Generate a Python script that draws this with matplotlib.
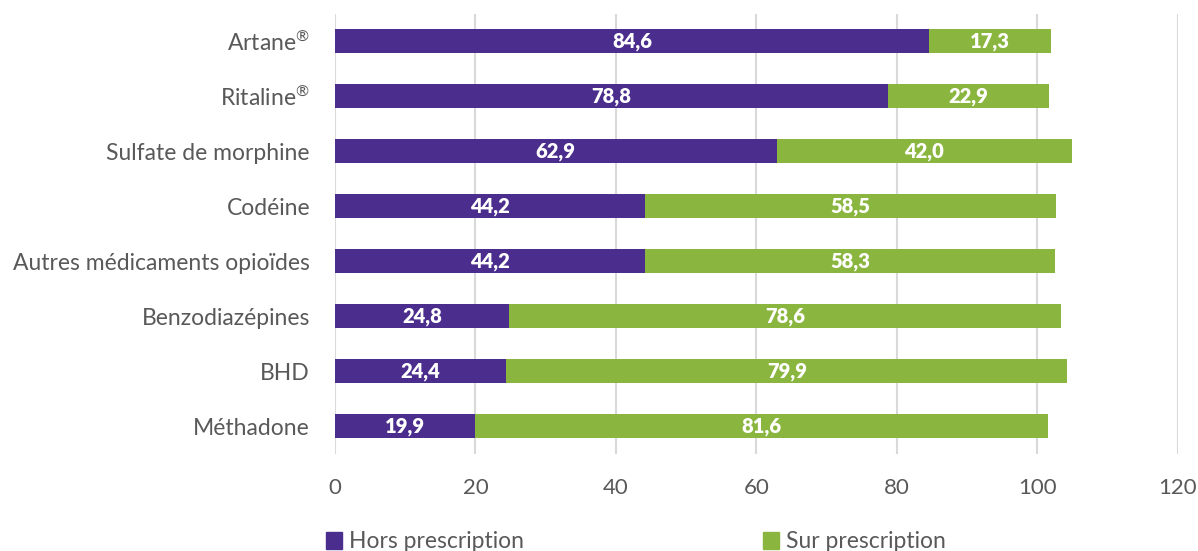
import matplotlib
matplotlib.use("Agg")
import matplotlib.pyplot as plt
from matplotlib.patches import Patch
import numpy as np

categories = ["Artane$^{®}$", "Ritaline$^{®}$", "Sulfate de morphine", "Codéine",
              "Autres médicaments opioïdes", "Benzodiazépines", "BHD", "Méthadone"]
hors = [84.6, 78.8, 62.9, 44.2, 44.2, 24.8, 24.4, 19.9]
sur = [17.3, 22.9, 42.0, 58.5, 58.3, 78.6, 79.9, 81.6]
series_names = ["Hors prescription", "Sur prescription"]
xticks = [0, 20, 40, 60, 80, 100, 120]

purple = "#4A2D8C"
green = "#8AB640"
gray_text = "#595959"
grid_col = "#D9D9D9"

plt.rcParams['font.family'] = ['Lato', 'DejaVu Sans']
plt.rcParams['mathtext.fontset'] = 'custom'
plt.rcParams['mathtext.rm'] = 'Lato'
plt.rcParams['mathtext.it'] = 'Lato'
plt.rcParams['mathtext.bf'] = 'Lato:bold'

fig = plt.figure(figsize=(11.98, 5.51), dpi=100)
ax = fig.add_axes([335/1198, 1-454/551, (1177.7-335)/1198, 440.5/551])

y = np.arange(len(categories))
h = 0.435
ax.barh(y, hors, height=h, color=purple, zorder=3)
ax.barh(y, sur, left=hors, height=h, color=green, zorder=3)

def fmt(v):
    return f"{v:.1f}".replace('.', ',')

for i in range(len(categories)):
    ax.text(hors[i]/2, y[i], fmt(hors[i]), ha='center', va='center',
            color='white', fontweight='heavy', fontsize=14.5, zorder=4)
    ax.text(hors[i] + sur[i]/2, y[i], fmt(sur[i]), ha='center', va='center',
            color='white', fontweight='heavy', fontsize=14.5, zorder=4)

ax.set_xlim(0, 120)
ax.set_ylim(len(categories)-0.5, -0.5)
ax.set_xticks(xticks)
ax.set_xticklabels([str(t) for t in xticks])
ax.set_yticks(y)
ax.set_yticklabels(categories)
ax.tick_params(axis='x', length=0, pad=17, labelsize=16, labelcolor=gray_text)
ax.tick_params(axis='y', length=0, pad=18, labelsize=16.5, labelcolor=gray_text)
for s in ax.spines.values():
    s.set_visible(False)
ax.grid(axis='x', color=grid_col, linewidth=1.5, zorder=0)
ax.set_axisbelow(True)

for name, col, xpos in [(series_names[0], purple, 326/1198), (series_names[1], green, 763/1198)]:
    fig.legend(handles=[Patch(color=col, label=name)], loc='center left',
               bbox_to_anchor=(xpos, 1-542/551), frameon=False, fontsize=16.5,
               handlelength=0.7, handleheight=0.7, handletextpad=0.3,
               borderpad=0, borderaxespad=0, labelcolor=gray_text)

fig.savefig("out.png", dpi=100)
